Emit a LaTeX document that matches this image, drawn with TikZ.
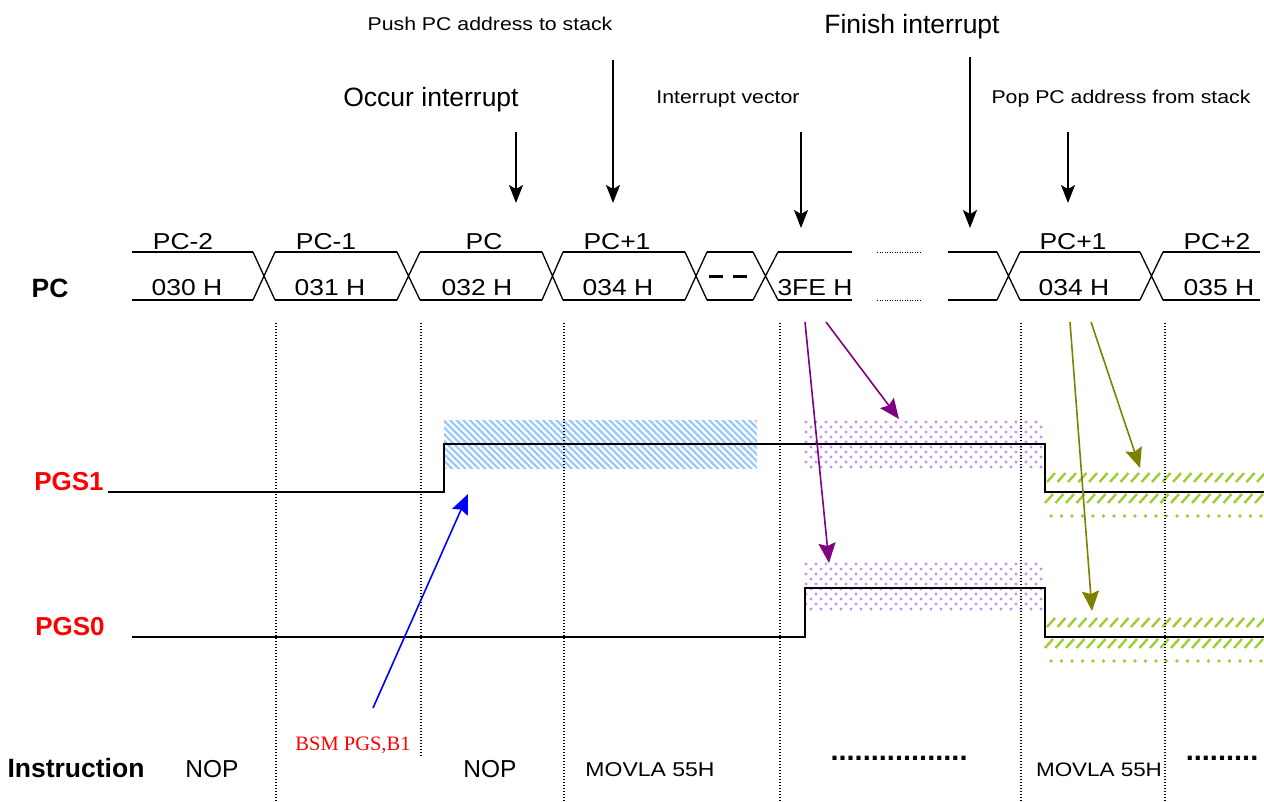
\documentclass[tikz,border=0pt]{standalone}
\usepackage{fontspec}
\setmainfont{Liberation Sans}
\newfontfamily\widesans[FakeStretch=1.15]{Liberation Sans}
\newfontfamily\timesr{Liberation Serif}
\usetikzlibrary{arrows.meta,patterns.meta}
\newcommand\fsz[1]{\fontsize{#1}{#1}\selectfont}
\definecolor{hatchblue}{RGB}{150,200,250}
\definecolor{dotpurple}{RGB}{196,140,255}
\definecolor{limegreen}{RGB}{160,205,50}
\definecolor{arrpurple}{RGB}{128,0,128}
\definecolor{arrolive}{RGB}{128,128,0}
\begin{document}
\begin{tikzpicture}[x=1pt,y=-1pt,
  lbl/.style={inner sep=0pt, anchor=base},
  bus/.style={line width=1.3pt},
  sig/.style={line width=2pt, line join=miter},
  gridline/.style={line width=1.2pt, dash pattern=on 1.2pt off 1.8pt},
  downarrow/.style={line width=1.5pt, -{Stealth[length=18pt,width=14pt,inset=4pt]}},
  colarrow/.style={line width=1.6pt, -{Stealth[length=20pt,width=17pt,inset=3pt]}},
  slash/.style={line width=2.4pt, limegreen}
]
\useasboundingbox (0,0) rectangle (1264,801);

% ---- top labels ----
\node[lbl] (push)   at (490,30)  {\widesans\fsz{18.5}Push PC address to stack};
\node[lbl] (occur)  at (431,106) {\fsz{26.5}Occur interrupt};
\node[lbl] (ivec)   at (728,103) {\widesans\fsz{18.5}Interrupt vector};
\node[lbl] (finish) at (912,33)  {\fsz{26.5}Finish interrupt};
\node[lbl] (pop)    at (1121,103){\widesans\fsz{18.5}Pop PC address from stack};

% ---- top arrows ----
\coordinate (a1s) at (516,132);  \coordinate (a1e) at (516,203);
\coordinate (a2s) at (613,60);   \coordinate (a2e) at (613,203);
\coordinate (a3s) at (801,132);  \coordinate (a3e) at (801,228);
\coordinate (a4s) at (970,57);   \coordinate (a4e) at (970,228);
\coordinate (a5s) at (1068,132); \coordinate (a5e) at (1068,203);
\draw[downarrow] (a1s) -- (a1e);
\draw[downarrow] (a2s) -- (a2e);
\draw[downarrow] (a3s) -- (a3e);
\draw[downarrow] (a4s) -- (a4e);
\draw[downarrow] (a5s) -- (a5e);

% ---- PC bus ----
\foreach \a/\b in {132/253, 275/397, 420/542, 563/685, 707/753, 778/852, 948/997, 1020/1140, 1163/1260}
  {\draw[bus] (\a,252) -- (\b,252) (\a,300) -- (\b,300);}
\foreach \a/\b in {253/275, 397/420, 542/563, 685/707, 753/778, 997/1020, 1140/1163}
  {\draw[bus] (\a,252) -- (\b,300) (\a,300) -- (\b,252);}
\draw[line width=3pt, dash pattern=on 14pt off 10pt] (709,276) -- (757,276);
\draw[line width=1pt, dash pattern=on 1pt off 1.5pt] (877,252) -- (921,252) (877,300) -- (921,300);

\foreach \t/\x in {PC-2/183, PC-1/326, PC/484, PC+1/617, PC+1/1073, PC+2/1217}
  {\node[lbl] at (\x,249) {\widesans\fsz{23}\t};}
\foreach \t/\x in {030 H/187, 031 H/330, 032 H/477, 034 H/618, 3FE H/815, 034 H/1074, 035 H/1219}
  {\node[lbl] at (\x,295) {\widesans\fsz{23}\t};}
\node[lbl] (pclbl) at (50,297) {\bfseries\fsz{26.5}PC};

% ---- shaded regions ----
\fill[pattern={Lines[angle=-45,distance=4.7pt,line width=2.2pt]}, pattern color=hatchblue]
  (444,420) rectangle (757,468);
\foreach \yy in {422,564} {
  \foreach \r in {0,...,9} {
    \foreach \c in {0,...,23} {
      \fill[dotpurple] ({806+\c*10+mod(\r,2)*5},{\yy+\r*5}) circle[radius=1.6pt];
    }
  }
}
\foreach \yl in {492,637} {
  \foreach \c in {0,...,20} {
    \draw[slash] ({1047+\c*10.5},{\yl-10}) -- ({1055+\c*10.5},{\yl-19});
    \draw[slash] ({1045+\c*10.5},{\yl+11}) -- ({1053+\c*10.5},{\yl+2});
    \fill[limegreen] ({1051+\c*10.5},{\yl+24}) circle[radius=1.8pt];
  }
}

% ---- vertical dotted lines ----
\foreach \x in {276,564,780,1021,1165} {\draw[gridline] (\x,323) -- (\x,801);}
\draw[gridline] (421,323) -- (421,757);

% ---- signals ----
\node[lbl] (pgs1) at (69,490) {\color{red}\bfseries\fsz{26}PGS1};
\node[lbl] (pgs0) at (70,635) {\color{red}\bfseries\fsz{26}PGS0};
\draw[sig] (108,492) -- (444,492) -- (444,444) -- (1045,444) -- (1045,492) -- (1264,492);
\draw[sig] (132,637) -- (805,637) -- (805,588) -- (1045,588) -- (1045,637) -- (1264,637);

% ---- coloured arrows ----
\coordinate (p1s) at (805,322);  \coordinate (p1e) at (829,563);
\coordinate (p2s) at (826,322);  \coordinate (p2e) at (899,419);
\coordinate (o1s) at (1070,322); \coordinate (o1e) at (1092,611);
\coordinate (o2s) at (1091,322); \coordinate (o2e) at (1140,468);
\coordinate (bs)  at (373,708);  \coordinate (be)  at (468,494);
\draw[colarrow, arrpurple] (p1s) -- (p1e);
\draw[colarrow, arrpurple] (p2s) -- (p2e);
\draw[colarrow, arrolive] (o1s) -- (o1e);
\draw[colarrow, arrolive] (o2s) -- (o2e);
\draw[colarrow, blue] (bs) -- (be);

% ---- instruction row ----
\node[lbl] (bsm) at (353,750) {\timesr\color{red}\fsz{20.5}BSM PGS,B1};
\node[lbl] (instr) at (76,777) {\bfseries\fsz{26.5}Instruction};
\node[lbl] (nop1) at (212,777) {\fsz{24.5}NOP};
\node[lbl] (nop2) at (490,777) {\fsz{24.5}NOP};
\node[lbl] (mov1) at (650,776) {\widesans\fsz{20}MOVLA 55H};
\node[lbl] (mov2) at (1099,776) {\widesans\fsz{19.5}MOVLA 55H};
\node[lbl] (dots1) at (899,760) {\bfseries\fsz{29}.................};
\node[lbl] (dots2) at (1222,760) {\bfseries\fsz{29}.........};
\end{tikzpicture}
\end{document}
